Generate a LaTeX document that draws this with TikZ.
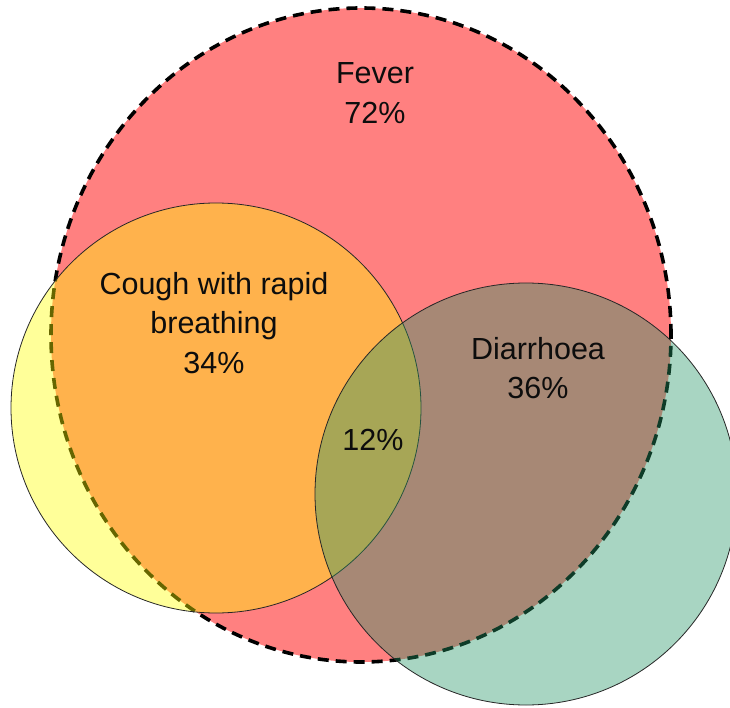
\documentclass[tikz,border=0pt]{standalone}
\usepackage{fontspec}
\setmainfont{Liberation Sans}
\definecolor{feverred}{RGB}{255,128,128}
\definecolor{coughyellow}{RGB}{255,255,0}
\definecolor{diarrhoeateal}{RGB}{37,150,102}

\begin{document}
\begin{tikzpicture}[x=1pt, y=-1pt,
    setring/.style={draw=black!85, line width=0.8pt, fill opacity=0.4},
    lbl/.style={align=center, inner sep=0pt, text=black!95,
      font=\fontsize{30.5}{39.5}\selectfont}]
  \useasboundingbox (0,0) rectangle (730,708);
  \clip (0,0) rectangle (730,708);

  % Define the set centres
  \coordinate (F) at (361,335);
  \coordinate (C) at (216,408);
  \coordinate (D) at (526,494);

  % Draw the three sets
  \draw[fill=feverred, line width=3.6pt, dash pattern=on 11pt off 7pt]
    (F) ellipse [x radius=310pt, y radius=327pt];
  \draw[setring, fill=coughyellow] (C) circle [radius=205pt];
  \draw[setring, fill=diarrhoeateal] (D) circle [radius=211pt];

  % Label the regions
  \node[lbl] (fever) at (375,93) {Fever\\72\%};
  \node[lbl] (cough) at (214,323) {Cough with rapid\\breathing\\34\%};
  \node[lbl] (diarrhoea) at (538,368) {Diarrhoea\\36\%};
  \node[lbl] (both) at (373,440) {12\%};
\end{tikzpicture}
\end{document}
